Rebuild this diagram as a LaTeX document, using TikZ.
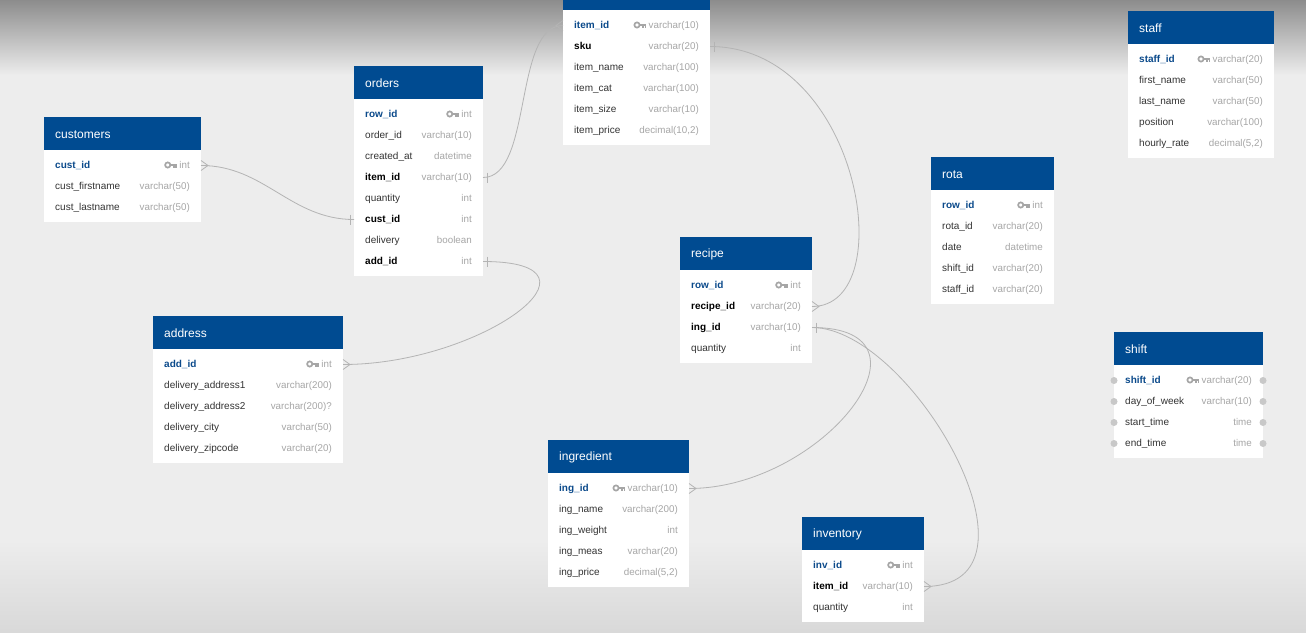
\documentclass[tikz,border=0pt]{standalone}
\usepackage{fontspec}
\setmainfont{Liberation Sans}
\usepackage{xcolor}
\usepackage{tikz}
\usetikzlibrary{positioning}
\definecolor{hdblue}{HTML}{004B91}
\definecolor{pkblue}{HTML}{0B4A8B}
\definecolor{fldtext}{HTML}{333333}
\definecolor{typegray}{HTML}{A6A6A6}
\definecolor{linkgray}{HTML}{B4B4B4}
\definecolor{bggray}{HTML}{EDEDED}
\definecolor{dotgray}{HTML}{C8C8C8}
% one table: id, x, y, width, title, rows, fields
\newcommand{\ertable}[7]{%
  \node[tbhead, minimum width=#4] (#1) at (#2,#3) {};
  \node[tbtitle] (#1-title) at ([xshift=11pt,yshift=-1pt]#1.west) {#5};
  \node[tbbody, minimum width=#4, minimum height={21*#6+9}] (#1-body) at (#1.south west) {};
  \foreach \fst/\fname/\ftype [count=\i] in {#7} {
    \node[tbrow, minimum width=#4] (#1-\i) at (#2,{#3+27.5+21*\i}) {};
    \node[\fst, anchor=west] (#1-n\i) at ([xshift=11pt]#1-\i.west) {\fname};
    \node[ftype, anchor=east] (#1-t\i) at ([xshift=-11pt]#1-\i.east) {\ftype};
  }%
}

\begin{document}
\begin{tikzpicture}[
    x=1pt, y=-1pt,
    tbhead/.style={fill=hdblue, anchor=north west, minimum height=33, inner sep=0pt, outer sep=0pt},
    tbtitle/.style={anchor=west, text=white, inner sep=0pt, font=\fontsize{12}{14}\selectfont},
    tbbody/.style={fill=white, anchor=north west, inner sep=0pt, outer sep=0pt},
    tbrow/.style={anchor=west, minimum height=21, inner sep=0pt, outer sep=0pt},
    field/.style={inner sep=0pt, text height=7.5pt, text depth=2.5pt, font=\fontsize{10}{12}\selectfont},
    pkname/.style={field, text=pkblue, font=\fontsize{10}{12}\selectfont\bfseries},
    fkname/.style={field, text=black, font=\fontsize{10}{12}\selectfont\bfseries},
    colname/.style={field, text=fldtext},
    ftype/.style={field, text=typegray, font=\fontsize{9.8}{12}\selectfont},
    link/.style={draw=linkgray, line width=0.8pt},
    crow/.pic={\draw[link] (0,-5) -- (7,0) -- (0,5);},
    barmk/.pic={\draw[link] (4,-5) -- (4,5);},
    keyic/.pic={
        \draw[typegray, line width=1.7pt] (-11.5pt,0.5pt) circle (2.6pt);
        \draw[typegray, line width=1.6pt] (-8.8pt,0.5pt) -- (-2.5pt,0.5pt)
            (-5.5pt,0.5pt) -- (-5.5pt,-2.2pt) (-3.2pt,0.5pt) -- (-3.2pt,-2.2pt);
    }
]
    \useasboundingbox (0,0) rectangle (1306,632);
    \clip (0,0) rectangle (1306,632);
    \fill[bggray] (0,0) rectangle (1306,632);
    \shade[top color=black!45, bottom color=bggray] (0,0) rectangle (1306,75);
    \shade[top color=bggray, bottom color=black!15] (0,540) rectangle (1306,632);

    % tables
    \ertable{cust}{44}{117}{157}{customers}{3}{pkname/cust\_id/int, colname/cust\_firstname/varchar(50), colname/cust\_lastname/varchar(50)}
    \ertable{ord}{354}{66}{129}{orders}{8}{pkname/row\_id/int, colname/order\_id/varchar(10), colname/created\_at/datetime, fkname/item\_id/varchar(10), colname/quantity/int, fkname/cust\_id/int, colname/delivery/boolean, fkname/add\_id/int}
    \ertable{item}{563}{-23}{147}{}{6}{pkname/item\_id/varchar(10), fkname/sku/varchar(20), colname/item\_name/varchar(100), colname/item\_cat/varchar(100), colname/item\_size/varchar(10), colname/item\_price/{decimal(10,2)}}
    \ertable{staff}{1128}{11}{146}{staff}{5}{pkname/staff\_id/varchar(20), colname/first\_name/varchar(50), colname/last\_name/varchar(50), colname/position/varchar(100), colname/hourly\_rate/{decimal(5,2)}}
    \ertable{rota}{931}{157}{123}{rota}{5}{pkname/row\_id/int, colname/rota\_id/varchar(20), colname/date/datetime, colname/shift\_id/varchar(20), colname/staff\_id/varchar(20)}
    \ertable{rcp}{680}{237}{132}{recipe}{4}{pkname/row\_id/int, fkname/recipe\_id/varchar(20), fkname/ing\_id/varchar(10), colname/quantity/int}
    \ertable{addr}{153}{316}{190}{address}{5}{pkname/add\_id/int, colname/delivery\_address1/varchar(200), colname/delivery\_address2/varchar(200)?, colname/delivery\_city/varchar(50), colname/delivery\_zipcode/varchar(20)}
    \ertable{shift}{1114}{332}{149}{shift}{4}{pkname/shift\_id/varchar(20), colname/day\_of\_week/varchar(10), colname/start\_time/time, colname/end\_time/time}
    \ertable{ing}{548}{440}{141}{ingredient}{5}{pkname/ing\_id/varchar(10), colname/ing\_name/varchar(200), colname/ing\_weight/int, colname/ing\_meas/varchar(20), colname/ing\_price/{decimal(5,2)}}
    \ertable{inv}{802}{517}{122}{inventory}{3}{pkname/inv\_id/int, fkname/item\_id/varchar(10), colname/quantity/int}

    \foreach \k in {cust, ord, item, staff, rota, rcp, addr, shift, ing, inv}
        \pic at (\k-t1.west) {keyic};
    \foreach \i in {1,...,4}
        \fill[dotgray] (shift-\i.west) circle (3.5) (shift-\i.east) circle (3.5);

    % relations
    \draw[link] (cust-1.east) to[out=0, in=180] (ord-6.west);
    \draw[link] (ord-4.east) to[out=0, in=180, distance=50pt] (item-1.west);
    \draw[link] (ord-8.east) to[out=0, in=0, distance=138pt] (addr-1.east);
    \draw[link] (item-2.east) to[out=0, in=0, out distance=150pt, in distance=90pt] (rcp-2.east);
    \draw[link] (rcp-3.east) to[out=0, in=0, distance=135pt] (ing-1.east);
    \draw[link] (rcp-3.east) to[out=0, in=0, out distance=100pt, in distance=135pt] (inv-2.east);

    \pic at (cust-1.east) {crow};
    \pic[xscale=-1] at (ord-6.west) {barmk};
    \pic at (ord-4.east) {barmk};
    \pic[xscale=-1] at (item-1.west) {crow};
    \pic at (ord-8.east) {barmk};
    \pic at (addr-1.east) {crow};
    \pic at (item-2.east) {barmk};
    \pic at (rcp-2.east) {crow};
    \pic at (rcp-3.east) {barmk};
    \pic at (ing-1.east) {crow};
    \pic at (inv-2.east) {crow};
\end{tikzpicture}
\end{document}
